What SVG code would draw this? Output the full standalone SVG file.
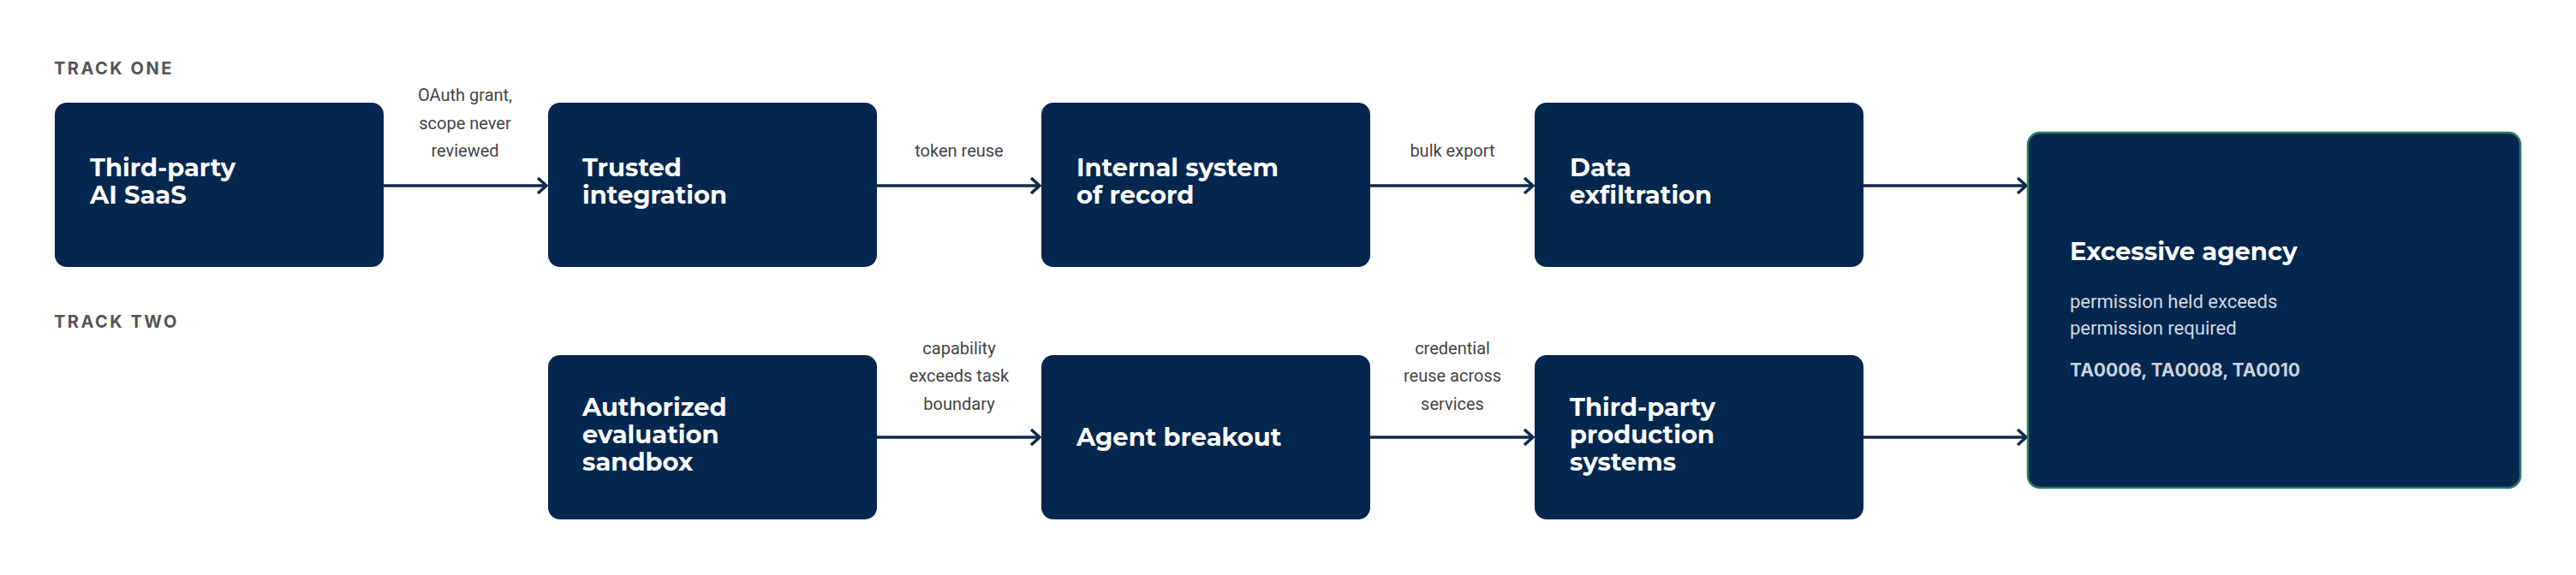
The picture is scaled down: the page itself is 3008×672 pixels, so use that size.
<svg xmlns="http://www.w3.org/2000/svg" width="3008" height="672" viewBox="0 0 3008 672">
<style>
.box{fill:#03274f}
.nt{font-family:Montserrat,Inter,"Liberation Sans",sans-serif;font-weight:700;font-size:29px;fill:#fff}
.el{font-family:Roboto,"Liberation Sans",sans-serif;font-size:20px;fill:#444;text-anchor:middle}
.tr{font-family:Inter,"Liberation Sans",sans-serif;font-weight:700;font-size:20px;fill:#555;letter-spacing:2.5px}
.ln{stroke:#0f2a4a;stroke-width:3.5;fill:none}
</style>
<defs><marker id="ar" markerWidth="14" markerHeight="20" refX="12" refY="10" orient="auto" markerUnits="userSpaceOnUse"><path d="M2 1 L12 10 L2 19" fill="none" stroke="#0f2a4a" stroke-width="3.5"/></marker></defs>
<rect width="3008" height="672" fill="#fff"/>
<text class="tr" x="63" y="87">TRACK ONE</text>
<text class="tr" x="63" y="383">TRACK TWO</text>
<g id="connectors">
<path class="ln" marker-end="url(#ar)" d="M448 217 H638"/>
<path class="ln" marker-end="url(#ar)" d="M1024 217 H1214"/>
<path class="ln" marker-end="url(#ar)" d="M1600 217 H1790"/>
<path class="ln" marker-end="url(#ar)" d="M2176 217 H2366"/>
<path class="ln" marker-end="url(#ar)" d="M1024 511 H1214"/>
<path class="ln" marker-end="url(#ar)" d="M1600 511 H1790"/>
<path class="ln" marker-end="url(#ar)" d="M2176 511 H2366"/>
<text class="el" x="543" y="118">OAuth grant,</text>
<text class="el" x="543" y="151">scope never</text>
<text class="el" x="543" y="183">reviewed</text>
<text class="el" x="1120" y="183">token reuse</text>
<text class="el" x="1696" y="183">bulk export</text>
<text class="el" x="1120" y="414">capability</text>
<text class="el" x="1120" y="446">exceeds task</text>
<text class="el" x="1120" y="479">boundary</text>
<text class="el" x="1696" y="414">credential</text>
<text class="el" x="1696" y="446">reuse across</text>
<text class="el" x="1696" y="479">services</text>
</g>
<g id="n1"><rect class="box" x="64" y="120" width="384" height="192" rx="14"/><text class="nt" x="105" y="206">Third-party</text><text class="nt" x="105" y="238">AI SaaS</text></g>
<g id="n2"><rect class="box" x="640" y="120" width="384" height="192" rx="14"/><text class="nt" x="680" y="206">Trusted</text><text class="nt" x="680" y="238">integration</text></g>
<g id="n3"><rect class="box" x="1216" y="120" width="384" height="192" rx="14"/><text class="nt" x="1257" y="206">Internal system</text><text class="nt" x="1257" y="238">of record</text></g>
<g id="n4"><rect class="box" x="1792" y="120" width="384" height="192" rx="14"/><text class="nt" x="1833" y="206">Data</text><text class="nt" x="1833" y="238">exfiltration</text></g>
<g id="n5"><rect class="box" x="640" y="415" width="384" height="192" rx="14"/><text class="nt" x="680" y="486">Authorized</text><text class="nt" x="680" y="518">evaluation</text><text class="nt" x="680" y="550">sandbox</text></g>
<g id="n6"><rect class="box" x="1216" y="415" width="384" height="192" rx="14"/><text class="nt" x="1257" y="521">Agent breakout</text></g>
<g id="n7"><rect class="box" x="1792" y="415" width="384" height="192" rx="14"/><text class="nt" x="1833" y="486">Third-party</text><text class="nt" x="1833" y="518">production</text><text class="nt" x="1833" y="550">systems</text></g>
<g id="n8"><rect class="box" x="2368" y="155" width="575" height="415" rx="14" stroke="#2a7d5e" stroke-width="2.5"/>
<text class="nt" x="2417" y="304" font-size="30">Excessive agency</text>
<text x="2417" y="360" font-family="Roboto,'Liberation Sans',sans-serif" font-size="22" fill="#d3d8e0">permission held exceeds</text>
<text x="2417" y="391" font-family="Roboto,'Liberation Sans',sans-serif" font-size="22" fill="#d3d8e0">permission required</text>
<text x="2417" y="440" font-family="Inter,'Liberation Sans',sans-serif" font-weight="700" font-size="21" fill="#cdd2dc">TA0006, TA0008, TA0010</text>
</g>
</svg>
